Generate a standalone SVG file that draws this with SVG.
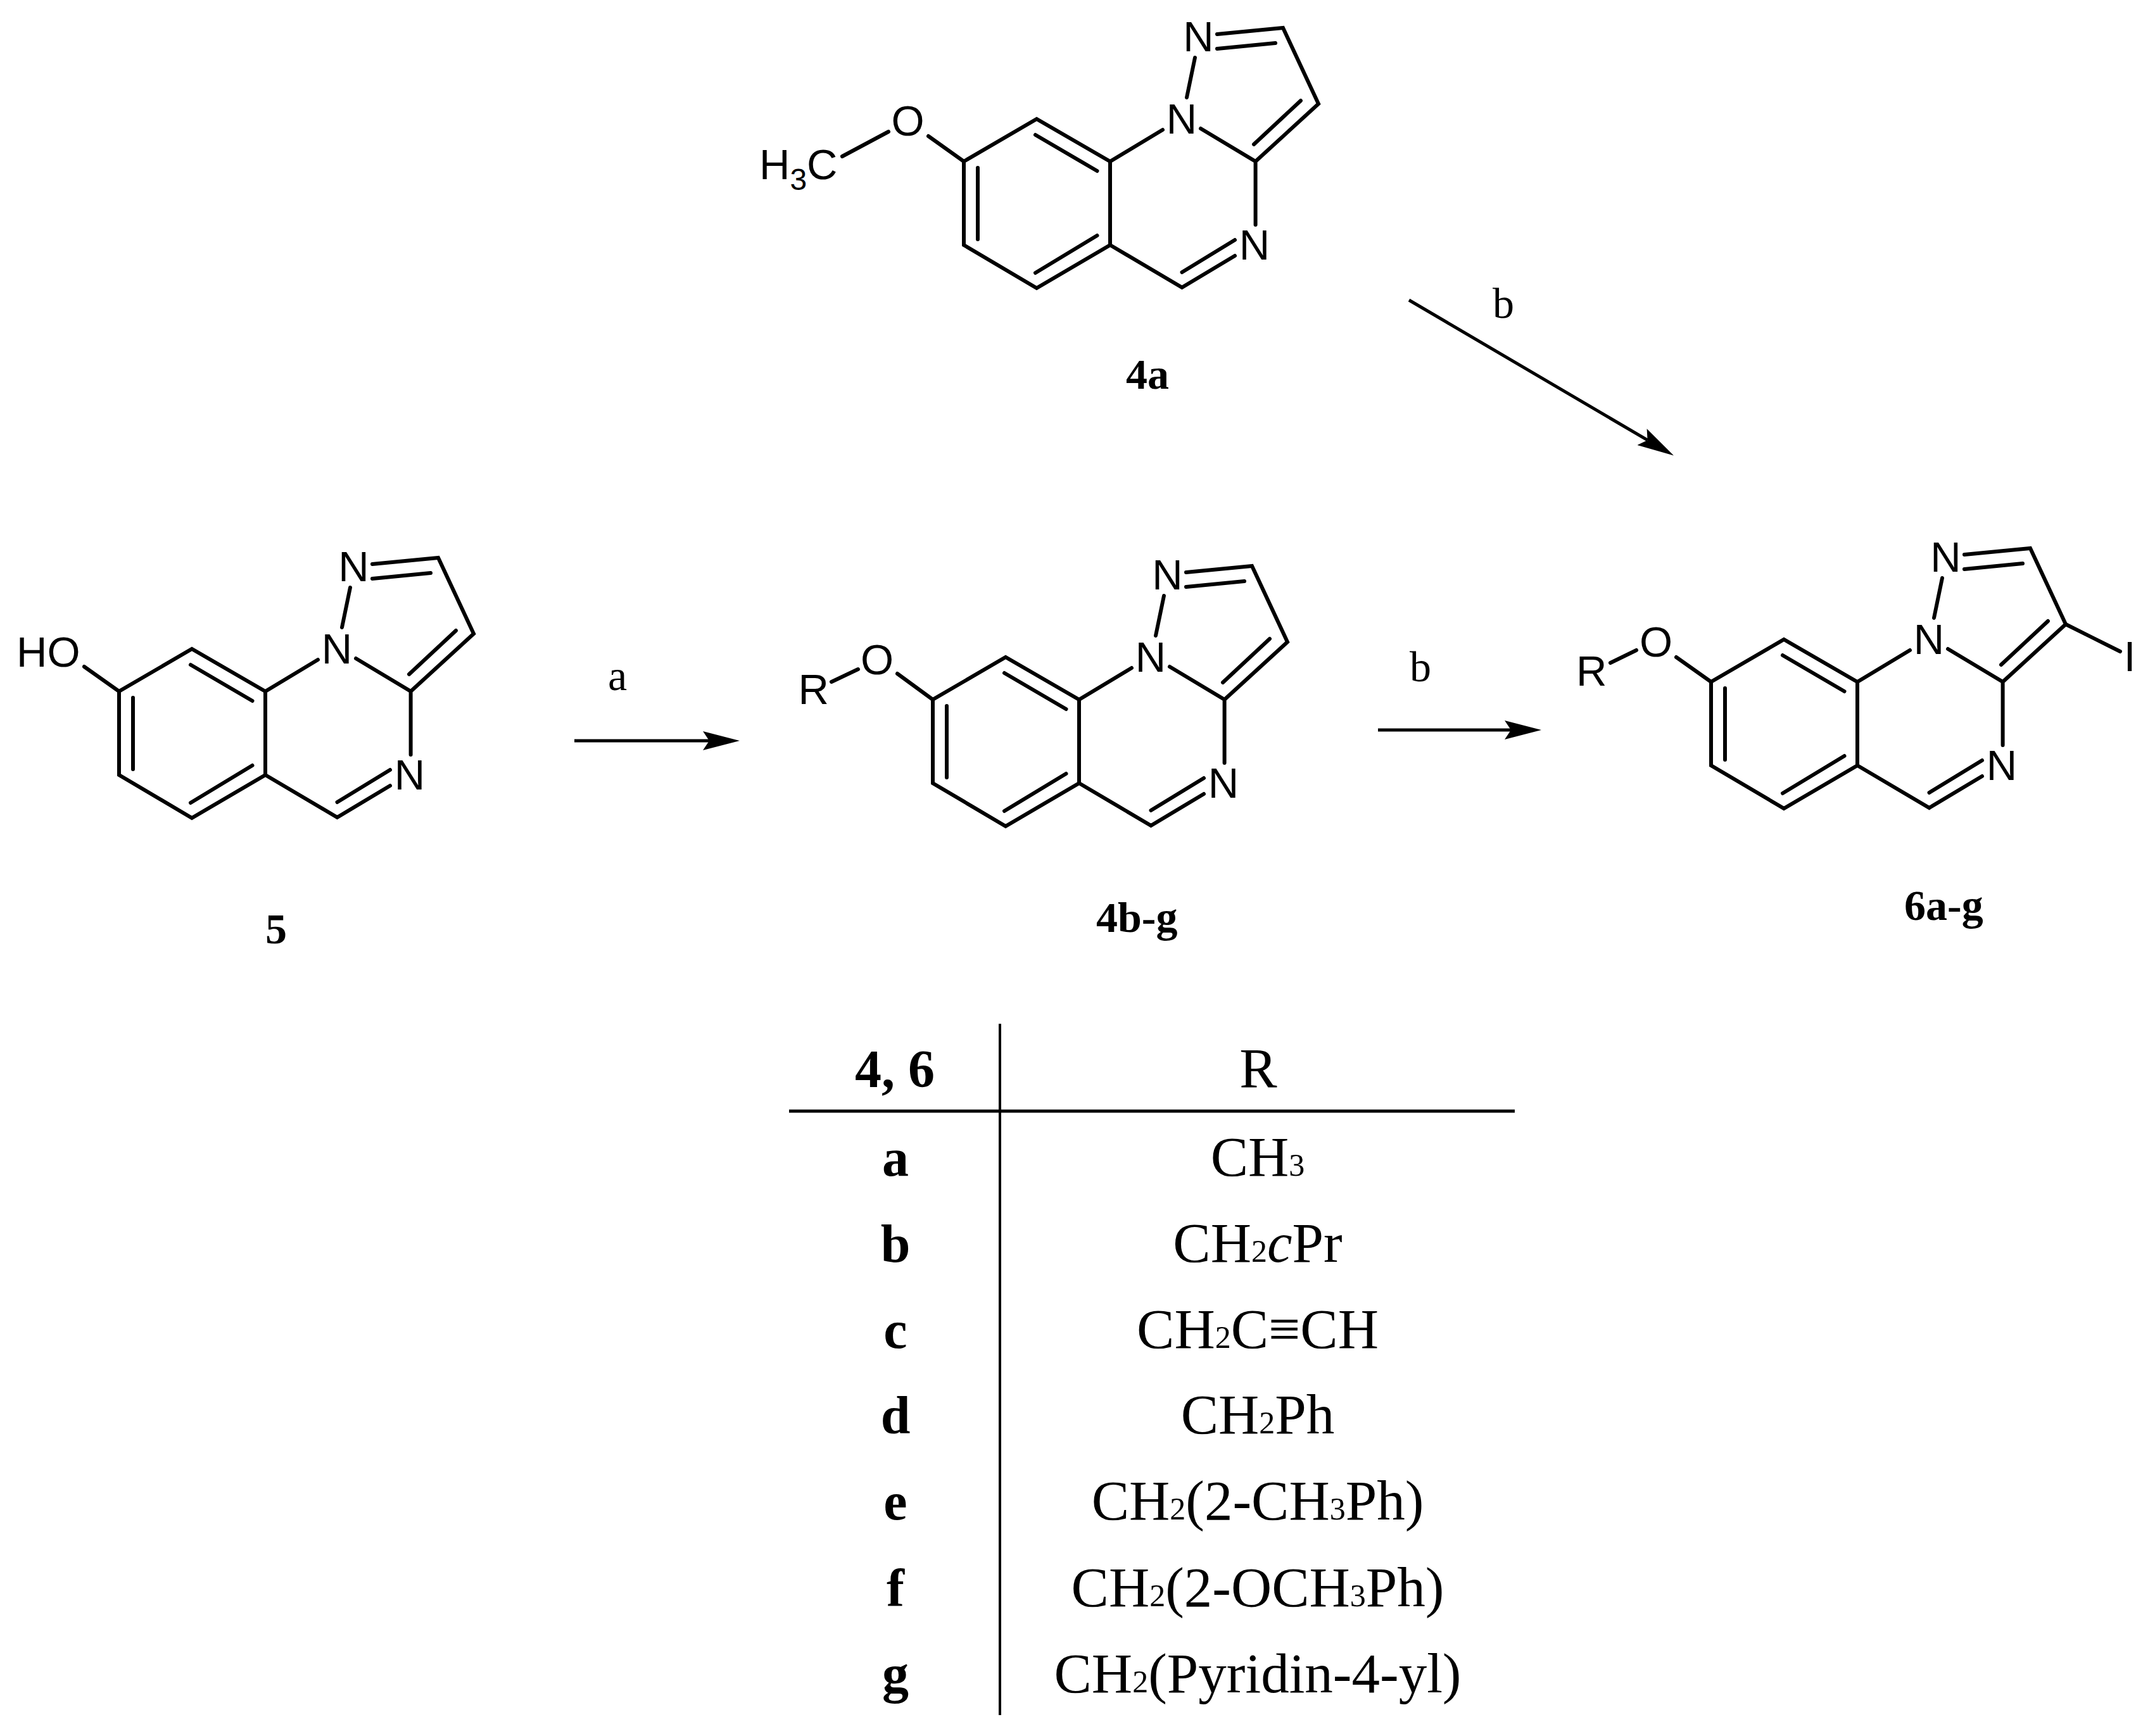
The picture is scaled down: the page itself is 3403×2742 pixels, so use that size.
<svg xmlns="http://www.w3.org/2000/svg" width="3403" height="2742" viewBox="0 0 3403 2742">
<style>
.bond{fill:none;stroke:#000;stroke-width:6;stroke-linecap:round;stroke-linejoin:miter}
.atom{font-family:"Liberation Sans",Arial,sans-serif;font-size:67px;fill:#000}
.mid{text-anchor:middle}
.cmp{font-family:"Liberation Serif","Times New Roman",serif;font-size:68px;font-weight:bold;fill:#000}
.rgt{font-family:"Liberation Serif","Times New Roman",serif;font-size:68px;fill:#000}
.hd{font-family:"Liberation Serif","Times New Roman",serif;font-size:84px;font-weight:bold;fill:#000;text-anchor:middle}
.cell{font-family:"Liberation Serif","Times New Roman",serif;font-size:89px;fill:#000;text-anchor:middle}
.sub{font-size:50px}
.asub{font-size:48px}
.arrow{fill:none;stroke:#000;stroke-width:5;marker-end:url(#head)}
.rule{stroke:#000;fill:none}
</style>
<defs>
<marker id="head" markerUnits="userSpaceOnUse" markerWidth="60" markerHeight="32" viewBox="0 0 60 32" refX="10" refY="16" orient="auto"><path d="M0 1L58 16L0 31L10 16Z" fill="#000"/></marker>
<path id="core" class="bond" d="M314 -50L231 0L115 -67L0 0V132L115 200L231 132V0M231 132L344.5 199L428 149M344.5 175L428 124M460.6 100V0L374 -52M460.6 0L560 -91L504 -211L400 -201M492 -187L400 -178M352 -101L365 -164M458 -27L532 -96M22 10V123M113 -42L210.5 15M210.5 117L113 176"/>
</defs>
<rect width="3403" height="2742" fill="#fff"/>
<g id="compound-4a" transform="translate(1522 255)">
<use href="#core"/>
<path class="bond" d="M-192 -8L-119 -47M-56 -40L0 0"/>
<text class="atom mid" x="370.5" y="-174">N</text><text class="atom mid" x="344" y="-44">N</text><text class="atom mid" x="459" y="155">N</text>
<text class="atom mid" x="-88.5" y="-41">O</text>
<text class="atom" x="-323" y="28">H<tspan class="asub" dy="17">3</tspan><tspan dy="-17">C</tspan></text>
</g>
<g id="compound-5" transform="translate(188 1092)">
<use href="#core"/>
<path class="bond" d="M-55 -39L0 0"/>
<text class="atom mid" x="370.5" y="-174">N</text><text class="atom mid" x="344" y="-44">N</text><text class="atom mid" x="459" y="155">N</text>
<text class="atom" x="-162" y="-39">HO</text>
</g>
<g id="compound-4b-g" transform="translate(1473 1105)">
<use href="#core"/>
<path class="bond" d="M-160 -28L-118 -48M-56 -41L0 0"/>
<text class="atom mid" x="370.5" y="-174">N</text><text class="atom mid" x="344" y="-44">N</text><text class="atom mid" x="459" y="155">N</text>
<text class="atom mid" x="-88" y="-40">O</text>
<text class="atom" x="-212.5" y="7">R</text>
</g>
<g id="compound-6a-g" transform="translate(2702 1077)">
<use href="#core"/>
<path class="bond" d="M-159 -30L-118 -50M-55 -39L0 0M560 -91L646 -48"/>
<text class="atom mid" x="370.5" y="-174">N</text><text class="atom mid" x="344" y="-44">N</text><text class="atom mid" x="459" y="155">N</text>
<text class="atom mid" x="-87" y="-40">O</text>
<text class="atom" x="-213" y="6">R</text>
<text class="atom mid" x="661" y="-17">I</text>
</g>
<g id="labels">
<text class="cmp" x="1778" y="614">4a</text>
<text class="cmp" x="419" y="1490">5</text>
<text class="cmp" x="1731" y="1472">4b-g</text>
<text class="cmp" x="3007" y="1453">6a-g</text>
<text class="rgt" x="960" y="1090">a</text>
<text class="rgt" x="2226" y="1076">b</text>
<text class="rgt" x="2357" y="502">b</text>
</g>
<g id="connectors">
<line class="arrow" x1="907" y1="1170" x2="1120" y2="1170"/>
<line class="arrow" x1="2176" y1="1153" x2="2386" y2="1153"/>
<line class="arrow" x1="2225" y1="474" x2="2601.6" y2="695.2"/>
</g>
<g id="table">
<line class="rule" stroke-width="4" x1="1579" y1="1617" x2="1579" y2="2709"/>
<line class="rule" stroke-width="5" x1="1246" y1="1755" x2="2392" y2="1755"/>
<text class="hd" x="1413" y="1717">4, 6</text>
<text class="cell" x="1987" y="1717">R</text>
<text class="hd" x="1414" y="1857">a</text><text class="cell" x="1986" y="1857">CH<tspan class="sub">3</tspan></text>
<text class="hd" x="1414" y="1993">b</text><text class="cell" x="1986" y="1993">CH<tspan class="sub">2</tspan><tspan font-style="italic">c</tspan>Pr</text>
<text class="hd" x="1414" y="2129">c</text><text class="cell" x="1986" y="2129">CH<tspan class="sub">2</tspan>C≡CH</text>
<text class="hd" x="1414" y="2264">d</text><text class="cell" x="1986" y="2264">CH<tspan class="sub">2</tspan>Ph</text>
<text class="hd" x="1414" y="2400">e</text><text class="cell" x="1986" y="2400">CH<tspan class="sub">2</tspan>(2-CH<tspan class="sub">3</tspan>Ph)</text>
<text class="hd" x="1414" y="2537">f</text><text class="cell" x="1986" y="2537">CH<tspan class="sub">2</tspan>(2-OCH<tspan class="sub">3</tspan>Ph)</text>
<text class="hd" x="1414" y="2673">g</text><text class="cell" x="1986" y="2673">CH<tspan class="sub">2</tspan>(Pyridin-4-yl)</text>
</g>
</svg>
